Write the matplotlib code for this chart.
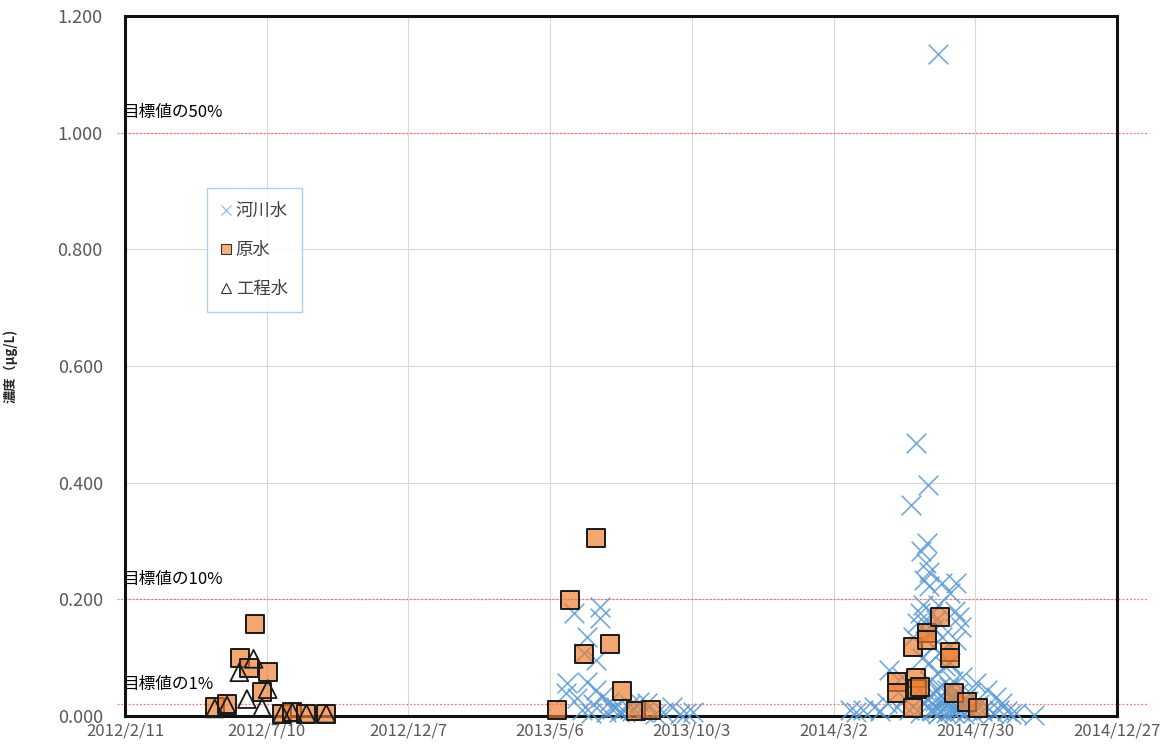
import numpy as np
import pandas as pd
import matplotlib
matplotlib.use("Agg")
import matplotlib.pyplot as plt
import matplotlib.dates as mdates
import matplotlib.transforms as mtransforms
from matplotlib.lines import Line2D
from matplotlib.ticker import FuncFormatter, MultipleLocator

plt.rcParams['font.family'] = ['Noto Sans CJK JP', 'DejaVu Sans']

# 河川水
river_dates = [
    "2013-05-23", "2013-05-24", "2013-05-31", "2013-06-03", "2013-06-09", "2013-06-11",
    "2013-06-14", "2013-06-14", "2013-06-18", "2013-06-20", "2013-06-24", "2013-06-24",
    "2013-06-28", "2013-06-28", "2013-06-30", "2013-07-04", "2013-07-07", "2013-07-10",
    "2013-07-15", "2013-07-18", "2013-07-22", "2013-07-29", "2013-08-01", "2013-08-08",
    "2013-08-12", "2013-08-17", "2013-08-25", "2013-09-02", "2013-09-12", "2013-09-20",
    "2013-09-27", "2013-10-04",
    "2014-03-19", "2014-03-26", "2014-04-02", "2014-04-14", "2014-04-20", "2014-04-27",
    "2014-04-30", "2014-05-08", "2014-05-13", "2014-05-16", "2014-05-21", "2014-05-23",
    "2014-05-25", "2014-05-28", "2014-05-29", "2014-05-30", "2014-06-01", "2014-06-01",
    "2014-06-03", "2014-06-04", "2014-06-05", "2014-06-06", "2014-06-06", "2014-06-07",
    "2014-06-08", "2014-06-09", "2014-06-09", "2014-06-10", "2014-06-11", "2014-06-11",
    "2014-06-11", "2014-06-12", "2014-06-12", "2014-06-13", "2014-06-14", "2014-06-14",
    "2014-06-15", "2014-06-15", "2014-06-16", "2014-06-17", "2014-06-18", "2014-06-18",
    "2014-06-19", "2014-06-19", "2014-06-20", "2014-06-21", "2014-06-21", "2014-06-22",
    "2014-06-23", "2014-06-24", "2014-06-25", "2014-06-25", "2014-06-26", "2014-06-27",
    "2014-06-28", "2014-06-28", "2014-06-29", "2014-06-30", "2014-07-01", "2014-07-02",
    "2014-07-03", "2014-07-03", "2014-07-04", "2014-07-05", "2014-07-06", "2014-07-07",
    "2014-07-08", "2014-07-08", "2014-07-09", "2014-07-10", "2014-07-10", "2014-07-11",
    "2014-07-12", "2014-07-13", "2014-07-14", "2014-07-15", "2014-07-16", "2014-07-17",
    "2014-07-18", "2014-07-19", "2014-07-21", "2014-07-22", "2014-07-24", "2014-07-26",
    "2014-07-28", "2014-07-31", "2014-08-03", "2014-08-06", "2014-08-11", "2014-08-14",
    "2014-08-18", "2014-08-21", "2014-08-24", "2014-08-27", "2014-09-02", "2014-09-06",
    "2014-09-11", "2014-09-30",
]
river_conc = [
    0.040, 0.057, 0.177, 0.030, 0.011, 0.108,
    0.135, 0.058, 0.005, 0.020, 0.096, 0.044,
    0.187, 0.168, 0.033, 0.007, 0.024, 0.012,
    0.016, 0.006, 0.010, 0.019, 0.008, 0.024,
    0.006, 0.022, 0.004, 0.006, 0.015, 0.004,
    0.005, 0.006,
    0.010, 0.006, 0.010, 0.015, 0.008, 0.022,
    0.079, 0.015, 0.067, 0.030, 0.010, 0.362,
    0.136, 0.468, 0.159, 0.045, 0.176, 0.005,
    0.282, 0.100, 0.190, 0.233, 0.020, 0.160,
    0.262, 0.297, 0.030, 0.396, 0.247, 0.222,
    0.091, 0.060, 0.140, 0.010, 0.176, 0.008,
    0.040, 0.120, 0.150, 0.025, 0.165, 0.045,
    0.074, 0.012, 0.003, 1.135, 0.190, 0.108,
    0.050, 0.008, 0.228, 0.136, 0.030, 0.015,
    0.085, 0.028, 0.005, 0.045, 0.020, 0.050,
    0.211, 0.091, 0.010, 0.035, 0.060, 0.005,
    0.025, 0.180, 0.012, 0.228, 0.130, 0.015,
    0.040, 0.170, 0.008, 0.153, 0.067, 0.020,
    0.004, 0.030, 0.010, 0.025, 0.040, 0.015,
    0.005, 0.057, 0.020, 0.008, 0.045, 0.012,
    0.005, 0.033, 0.010, 0.022, 0.008, 0.004,
    0.005, 0.002,
]

# 原水
raw_dates = [
    "2012-05-16", "2012-05-29", "2012-06-12", "2012-06-21", "2012-06-28", "2012-07-05",
    "2012-07-11", "2012-07-26", "2012-08-06", "2012-08-21", "2012-09-11",
    "2013-05-13", "2013-05-27", "2013-06-11", "2013-06-24", "2013-07-08", "2013-07-21",
    "2013-08-05", "2013-08-21",
    "2014-05-08", "2014-05-08", "2014-05-25", "2014-05-25", "2014-05-28", "2014-05-29",
    "2014-06-01", "2014-06-09", "2014-06-09", "2014-06-23", "2014-07-03", "2014-07-03",
    "2014-07-07", "2014-07-21", "2014-08-02",
]
raw_conc = [
    0.015, 0.020, 0.099, 0.082, 0.157, 0.041,
    0.075, 0.004, 0.006, 0.004, 0.004,
    0.010, 0.199, 0.107, 0.305, 0.124, 0.043,
    0.009, 0.010,
    0.058, 0.039, 0.118, 0.014, 0.065, 0.046,
    0.050, 0.142, 0.130, 0.170, 0.110, 0.099,
    0.039, 0.024, 0.013,
]

# 工程水
process_dates = [
    "2012-05-16", "2012-05-29", "2012-06-11", "2012-06-19", "2012-06-26", "2012-07-05",
    "2012-07-11", "2012-07-26", "2012-08-06", "2012-08-21", "2012-09-11",
]
process_conc = [
    0.013, 0.018, 0.075, 0.029, 0.098, 0.014,
    0.046, 0.004, 0.006, 0.004, 0.004,
]

# 目標値に対する割合
target_levels = [1.0, 0.2, 0.02]
target_labels = ["目標値の50%", "目標値の10%", "目標値の1%"]

x_start, x_end = "2012-02-11", "2014-12-27"
tick_step_days = 150

fig = plt.figure(figsize=(11.62, 7.49), dpi=100)
ax = fig.add_axes([0.1076, 0.0441, 0.8537, 0.9345])

ax.scatter(pd.to_datetime(river_dates), river_conc, marker='x', s=200,
           color='#5B9BD5', linewidths=1.2, alpha=0.85, zorder=3, clip_on=False)
ax.scatter(pd.to_datetime(raw_dates), raw_conc, marker='s', s=165,
           facecolors=(0.93, 0.49, 0.19, 0.68), edgecolors='#1a1a1a',
           linewidths=1.4, zorder=4, clip_on=False)
ax.scatter(pd.to_datetime(process_dates), process_conc, marker='^', s=165,
           facecolors='none', edgecolors='#1a1a1a', linewidths=1.3,
           zorder=5, clip_on=False)

# 目標値ライン
trans = mtransforms.blended_transform_factory(ax.transAxes, ax.transData)
for lv, lb in zip(target_levels, target_labels):
    ax.plot([-0.008, 1.03], [lv, lv], transform=trans, color='#FF5050',
            lw=0.9, ls=(0, (1.5, 1.5)), alpha=0.8, clip_on=False, zorder=2)
    ax.text(-0.003, lv + 0.02, lb, transform=trans, fontsize=12,
            color='black', ha='left', va='bottom', zorder=6)

ticks = pd.date_range(x_start, x_end, freq=f"{tick_step_days}D")
ax.set_xlim(pd.Timestamp(x_start), pd.Timestamp(x_end))
ax.set_xticks(ticks)
ax.set_xticklabels([f"{t.year}/{t.month}/{t.day}" for t in ticks])
ax.set_ylim(0, 1.2)
ax.yaxis.set_major_locator(MultipleLocator(0.2))
ax.yaxis.set_major_formatter(FuncFormatter(lambda v, p: f"{v:.3f}"))

ax.grid(True, color='#D9D9D9', lw=0.8)
ax.set_axisbelow(True)
ax.tick_params(length=0, labelcolor='#595959')
ax.tick_params(axis='y', pad=16, labelsize=13)
ax.tick_params(axis='x', pad=5, labelsize=12)
for sp in ax.spines.values():
    sp.set_linewidth(2.2)
    sp.set_color('#111111')
    sp.set_zorder(2.5)

ax.set_ylabel("濃度（µg/L)", fontsize=9.5, color='#262626', fontweight='bold')
ax.yaxis.set_label_coords(-0.108, 0.5)

handles = [
    Line2D([], [], marker='x', ls='none', color='#9DC3E6', markersize=7, mew=1),
    Line2D([], [], marker='s', ls='none', markerfacecolor='#F4B183',
           markeredgecolor='#333333', markersize=7, mew=0.8),
    Line2D([], [], marker='^', ls='none', markerfacecolor='white',
           markeredgecolor='#333333', markersize=7, mew=0.8),
]
leg = ax.legend(handles, ["河川水", "原水", "工程水"], loc='upper left',
                bbox_to_anchor=(0.0827, 0.754), frameon=True, fancybox=False,
                fontsize=12.5, labelspacing=1.2, handlelength=0.6,
                handletextpad=0.25, borderpad=0.8, borderaxespad=0)
leg.get_frame().set_edgecolor('#9DC3E6')
leg.get_frame().set_linewidth(1.0)
for t in leg.get_texts():
    t.set_color('#404040')

fig.savefig("out.png", dpi=100)
